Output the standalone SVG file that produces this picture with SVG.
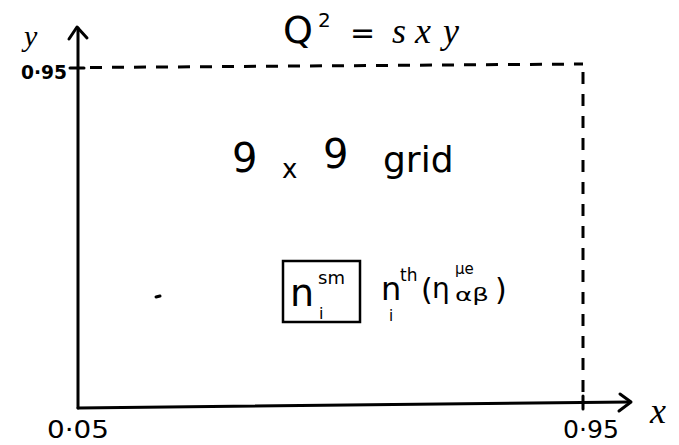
<svg xmlns="http://www.w3.org/2000/svg" width="679" height="445" viewBox="0 0 679 445">
<defs>
<style>
.ax{stroke:#000;stroke-width:3;fill:none;stroke-linecap:round;stroke-linejoin:round}
.dash{stroke:#000;stroke-width:3;fill:none;stroke-dasharray:12 10}
.t{font-family:"DejaVu Sans","Liberation Sans",sans-serif;fill:#000}
.m{font-family:"Liberation Serif","DejaVu Serif",serif;font-style:italic;fill:#000}
</style>
</defs>
<rect width="679" height="445" fill="#fff"/>
<g id="connectors">
<path class="ax" d="M78,408 L78,28"/>
<path class="ax" d="M69,39 L77,27 L87,38"/>
<path class="ax" d="M78,408 L630,402"/>
<path class="ax" d="M620,394 L631,402 L619,411"/>
<path class="ax" d="M70,68 L84,68"/>
<path class="dash" d="M90,67.5 L583,64"/>
<path class="dash" d="M583,72 L583,394"/>
<path class="ax" d="M583,396 L583,409"/>
<path class="ax" d="M156,297 L160,296"/>
</g>
<g id="axis-labels">
<text class="m" x="24" y="46" font-size="30">y</text>
<text class="t" x="21" y="79" font-size="19" font-weight="bold" textLength="46" lengthAdjust="spacingAndGlyphs">0·95</text>
<text class="t" x="47" y="438" font-size="25" textLength="62" lengthAdjust="spacingAndGlyphs">0·05</text>
<text class="t" x="563" y="438" font-size="25" textLength="56" lengthAdjust="spacingAndGlyphs">0·95</text>
<text class="m" x="650" y="423" font-size="36">x</text>
</g>
<g id="title">
<text class="t" x="283" y="43" font-size="38">Q</text>
<text class="t" x="318" y="27" font-size="20">2</text>
<text class="t" x="350" y="43" font-size="30">=</text>
<text class="m" x="392" y="43" font-size="36">s</text>
<text class="m" x="415" y="43" font-size="36">x</text>
<text class="m" x="443" y="43" font-size="36">y</text>
</g>
<g id="grid-label">
<text class="t" x="232" y="172" font-size="40">9</text>
<text class="t" x="282" y="178" font-size="26">x</text>
<text class="t" x="323" y="168" font-size="40">9</text>
<text class="t" x="383" y="172" font-size="36">grid</text>
</g>
<g id="n-sm-box">
<rect x="283" y="261" width="77" height="61" fill="none" stroke="#000" stroke-width="2.5"/>
<text class="t" x="290" y="306" font-size="38">n</text>
<text class="t" x="318" y="284" font-size="18">sm</text>
<text class="t" x="319" y="319" font-size="16">i</text>
</g>
<g id="n-th">
<text class="t" x="381" y="300" font-size="32">n</text>
<text class="t" x="400" y="281" font-size="17">th</text>
<text class="t" x="389" y="321" font-size="15">i</text>
<text class="t" x="421" y="300" font-size="30">(</text>
<text class="t" x="432" y="298" font-size="28">η</text>
<text class="t" x="455" y="274" font-size="15">μe</text>
<text class="t" x="455" y="301" font-size="18" textLength="34" lengthAdjust="spacingAndGlyphs">αβ</text>
<text class="t" x="495" y="300" font-size="30">)</text>
</g>
</svg>
